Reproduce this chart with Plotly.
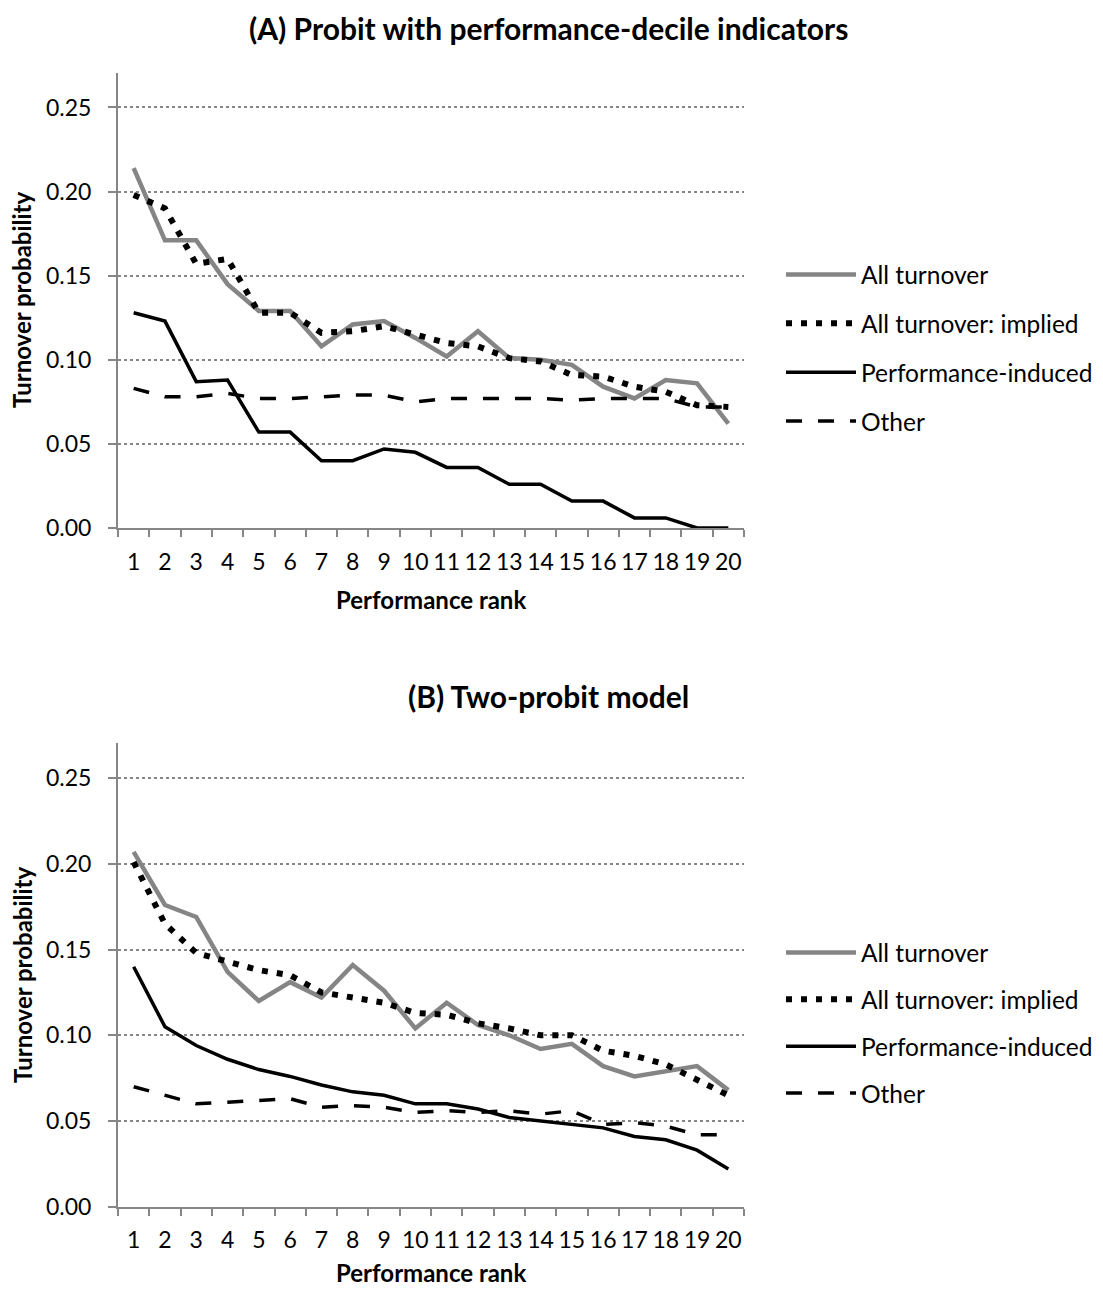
import plotly.graph_objects as go

ranks = [str(i) for i in range(1, 21)]

# Panel A: Probit with performance-decile indicators
a_all = [0.214, 0.171, 0.171, 0.145, 0.129, 0.129, 0.108, 0.121, 0.123, 0.113,
         0.102, 0.117, 0.101, 0.100, 0.097, 0.084, 0.077, 0.088, 0.086, 0.062]
a_implied = [0.198, 0.190, 0.157, 0.160, 0.128, 0.128, 0.116, 0.117, 0.120, 0.115,
             0.110, 0.108, 0.101, 0.099, 0.091, 0.090, 0.084, 0.081, 0.073, 0.072]
a_perf = [0.128, 0.123, 0.087, 0.088, 0.057, 0.057, 0.040, 0.040, 0.047, 0.045,
          0.036, 0.036, 0.026, 0.026, 0.016, 0.016, 0.006, 0.006, 0.000, 0.000]
a_other = [0.083, 0.078, 0.078, 0.080, 0.077, 0.077, 0.078, 0.079, 0.079, 0.075,
           0.077, 0.077, 0.077, 0.077, 0.076, 0.077, 0.077, 0.077, 0.072, 0.072]

# Panel B: Two-probit model
b_all = [0.207, 0.176, 0.169, 0.137, 0.120, 0.131, 0.122, 0.141, 0.126, 0.104,
         0.119, 0.106, 0.100, 0.092, 0.095, 0.082, 0.076, 0.079, 0.082, 0.068]
b_implied = [0.201, 0.165, 0.148, 0.143, 0.138, 0.135, 0.125, 0.122, 0.119, 0.113,
             0.112, 0.107, 0.104, 0.100, 0.100, 0.091, 0.088, 0.083, 0.074, 0.065]
b_perf = [0.140, 0.105, 0.094, 0.086, 0.080, 0.076, 0.071, 0.067, 0.065, 0.060,
          0.060, 0.057, 0.052, 0.050, 0.048, 0.046, 0.041, 0.039, 0.033, 0.022]
b_other = [0.070, 0.065, 0.060, 0.061, 0.062, 0.063, 0.058, 0.059, 0.058, 0.055,
           0.056, 0.055, 0.056, 0.054, 0.056, 0.048, 0.049, 0.047, 0.042, 0.042]

series_names = ["All turnover", "All turnover: implied", "Performance-induced", "Other"]
titles = ["(A) Probit with performance-decile indicators", "(B) Two-probit model"]
y_ticks = [0.00, 0.05, 0.10, 0.15, 0.20, 0.25]

GRAY = "#868686"
FONT = "Lato"
OFF = 8  # default body margin of the html page
W, H = 1103 - OFF, 1293 - OFF


def px(xp):
    return (xp - OFF) / W


def py(yp):
    return 1 - (yp - OFF) / H


styles = [
    dict(color="#858585", width=4.5),
    dict(color="black", width=6, dash="6px,9px"),
    dict(color="black", width=3.5),
    dict(color="black", width=3.5, dash="16px,16px"),
]

fig = go.Figure()
panels = [
    (["x", "y"], [a_all, a_implied, a_perf, a_other], "legend", "a"),
    (["x2", "y2"], [b_all, b_implied, b_perf, b_other], "legend2", "b"),
]
for (xa, ya), data, leg, g in panels:
    for i, (name, vals) in enumerate(zip(series_names, data)):
        fig.add_trace(go.Scatter(
            x=ranks, y=vals, name=name, mode="lines", line=styles[i],
            xaxis=xa, yaxis=ya, legend=leg, legendgroup=f"{g}{i}",
        ))

x_dom = [px(118), px(744)]
y_doms = [[py(528), py(73)], [py(1206.7), py(743)]]

axis_common_x = dict(
    type="category", domain=x_dom, range=[-0.5, len(ranks) - 0.5],
    tickson="boundaries", ticks="outside",
    ticklen=7, tickwidth=2, tickcolor=GRAY, showline=True, linecolor=GRAY,
    linewidth=2, showgrid=False, zeroline=False, automargin=False, tickangle=0,
    ticklabelstandoff=12,
    tickfont=dict(family=FONT, size=23, color="black"),
)
axis_common_y = dict(
    range=[0, 0.2705], tickvals=y_ticks, tickformat=".2f", ticks="outside",
    ticklen=8, tickwidth=2, tickcolor=GRAY, showline=True, linecolor=GRAY,
    linewidth=2, showgrid=True, gridcolor=GRAY, griddash="dot", gridwidth=1.5,
    zeroline=False, ticklabelstandoff=12, automargin=False,
    tickfont=dict(family=FONT, size=23, color="black"),
)

legend_common = dict(
    xanchor="left", yanchor="top", bgcolor="rgba(0,0,0,0)",
    font=dict(family=FONT, size=24.5, color="black"), itemwidth=70,
)

fig.update_layout(
    template="none",
    width=W, height=H, margin=dict(l=0, r=0, t=0, b=0, pad=0),
    paper_bgcolor="white", plot_bgcolor="white",
    xaxis=dict(axis_common_x, anchor="y"),
    yaxis=dict(axis_common_y, domain=y_doms[0], anchor="x"),
    xaxis2=dict(axis_common_x, anchor="y2"),
    yaxis2=dict(axis_common_y, domain=y_doms[1], anchor="x2"),
    legend=dict(legend_common, x=px(781), y=py(252), tracegroupgap=14),
    legend2=dict(legend_common, x=px(781), y=py(930), tracegroupgap=12),
    showlegend=True,
)

annos = []
for title, ty, xt, yt in [
    (titles[0], 28, 600, 300),
    (titles[1], 696, 1272, 975),
]:
    annos.append(dict(text=f"<b>{title}</b>", x=px(548), y=py(ty), xref="paper", yref="paper",
                      showarrow=False, xanchor="center", yanchor="middle",
                      font=dict(family=FONT, size=30, color="black")))
    annos.append(dict(text="<b>Performance rank</b>", x=px(431), y=py(xt), xref="paper", yref="paper",
                      showarrow=False, xanchor="center", yanchor="middle",
                      font=dict(family=FONT, size=24, color="black")))
    annos.append(dict(text="<b>Turnover probability</b>", x=px(22), y=py(yt), xref="paper", yref="paper",
                      showarrow=False, xanchor="center", yanchor="middle", textangle=-90,
                      font=dict(family=FONT, size=24, color="black")))
fig.update_layout(annotations=annos)

fig.write_html("out.html")
